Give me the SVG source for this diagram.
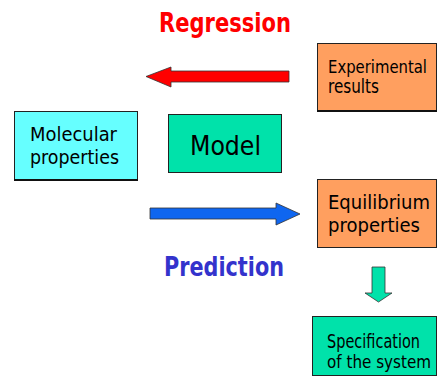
<svg xmlns="http://www.w3.org/2000/svg" width="437" height="376" viewBox="0 0 437 376">
<style>
.box{stroke:#222;stroke-width:1}
.t{font-family:"DejaVu Sans Condensed","DejaVu Sans",sans-serif;fill:#000;font-size:19px}
.s{font-size:17px}
.h{font-family:"DejaVu Sans","Liberation Sans",sans-serif;font-weight:bold;font-size:26px}
.arr{stroke:#333;stroke-width:0.8}
</style>
<rect width="437" height="376" fill="#fff"/>
<text class="h" x="159" y="32" fill="#ff0000" textLength="132" lengthAdjust="spacingAndGlyphs">Regression</text>
<text class="h" x="164" y="276" fill="#3333cc" textLength="120" lengthAdjust="spacingAndGlyphs">Prediction</text>
<g id="experimental">
<rect class="box" x="317.5" y="43.5" width="119" height="67" fill="#ff9f5f"/>
<line x1="317" y1="111" x2="437" y2="111" stroke="#111" stroke-width="2"/>
<text class="t s" x="328" y="73" textLength="99" lengthAdjust="spacingAndGlyphs">Experimental</text>
<text class="t" x="328" y="93" textLength="51" lengthAdjust="spacingAndGlyphs">results</text>
</g>
<g id="molecular">
<rect class="box" x="14.5" y="111.5" width="123" height="68" fill="#66ffff"/>
<line x1="14" y1="180" x2="138" y2="180" stroke="#111" stroke-width="2"/>
<text class="t" x="30" y="141" textLength="87" lengthAdjust="spacingAndGlyphs">Molecular</text>
<text class="t" x="30" y="164" textLength="89" lengthAdjust="spacingAndGlyphs">properties</text>
</g>
<g id="model">
<rect class="box" x="168.5" y="114.5" width="113" height="58" fill="#00e2aa"/>
<text class="t" x="190" y="155" style="font-size:27px" textLength="71" lengthAdjust="spacingAndGlyphs">Model</text>
</g>
<g id="equilibrium">
<rect class="box" x="317.5" y="179.5" width="119" height="68" fill="#ff9f5f"/>
<text class="t" x="328" y="209" textLength="102" lengthAdjust="spacingAndGlyphs">Equilibrium</text>
<text class="t" x="328" y="232" textLength="92" lengthAdjust="spacingAndGlyphs">properties</text>
</g>
<g id="specification">
<rect class="box" x="312.5" y="316.5" width="124" height="59" fill="#00e2aa"/>
<text class="t" x="327" y="348" textLength="93" lengthAdjust="spacingAndGlyphs">Specification</text>
<text class="t s" x="327" y="368" textLength="104" lengthAdjust="spacingAndGlyphs">of the system</text>
</g>
<g id="connectors">
<polygon class="arr" points="289,71 171,71 171,67 146,76.5 171,87 171,82 289,82" fill="#ff0000"/>
<polygon class="arr" points="150,208 276,208 276,203 300,214 276,225 276,219 150,219" fill="#0f66f0"/>
<polygon class="arr" points="372,267 385,267 385,293 392,293 378.5,302 365,293 372,293" fill="#00e2aa"/>
</g>
</svg>
